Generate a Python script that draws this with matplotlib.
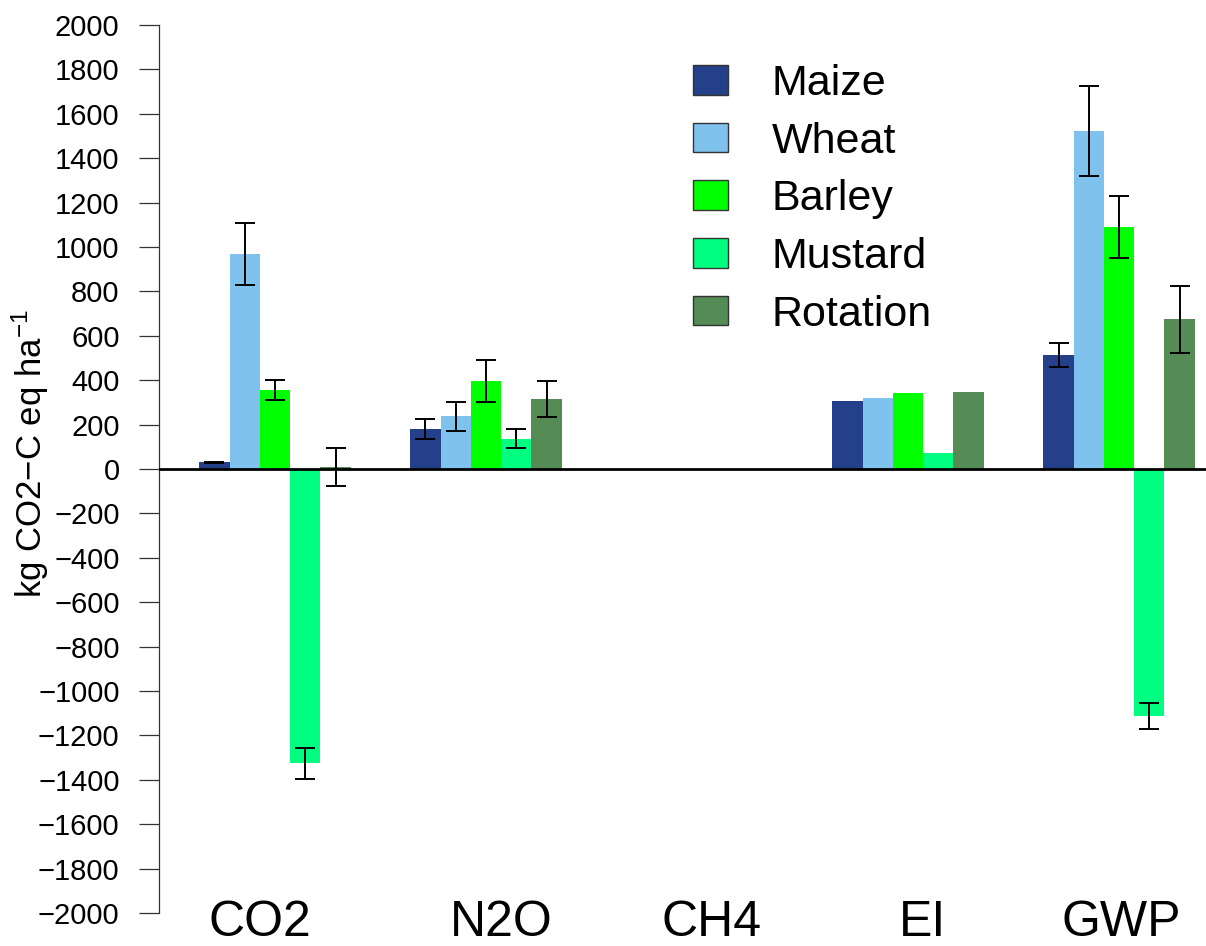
import numpy as np
import matplotlib
matplotlib.use("Agg")
import matplotlib.pyplot as plt
import matplotlib.transforms as mtransforms
from matplotlib.patches import Patch

plt.rcParams['font.family'] = ['Liberation Sans', 'DejaVu Sans']
plt.rcParams['mathtext.fontset'] = 'custom'
plt.rcParams['mathtext.rm'] = 'Liberation Sans'
plt.rcParams['mathtext.default'] = 'regular'

# data
categories = ["CO2", "N2O", "CH4", "EI", "GWP"]
crops = ["Maize", "Wheat", "Barley", "Mustard", "Rotation"]
colors = ["#25408A", "#80C2EE", "#00FF00", "#00FF80", "#558B54"]

maize = [30, 180, 0, 308, 512]
wheat = [968, 237, 0, 321, 1522]
barley = [355, 398, 0, 342, 1089]
mustard = [-1325, 137, 0, 74, -1113]
rotation = [10, 316, 0, 349, 674]

maize_err = [3, 45, np.nan, np.nan, 54]
wheat_err = [138, 67, np.nan, np.nan, 204]
barley_err = [45, 94, np.nan, np.nan, 140]
mustard_err = [70, 42, np.nan, np.nan, 57]
rotation_err = [86, 81, np.nan, np.nan, 150]

values = [maize, wheat, barley, mustard, rotation]
errors = [maize_err, wheat_err, barley_err, mustard_err, rotation_err]

yticks = np.arange(-2000, 2001, 200)

W, H = 1206, 946
fig = plt.figure(figsize=(W / 100, H / 100), dpi=100)
ax = fig.add_axes([159 / W, 33 / H, 1047 / W, 888 / H])

x = np.arange(len(categories))
width = 0.1435

for i in range(len(crops)):
    xs = x + (i - 2) * width
    ax.bar(xs, values[i], width, color=colors[i], edgecolor='none', zorder=2)
    err = np.array(errors[i], dtype=float)
    ok = ~np.isnan(err)
    ax.errorbar(xs[ok], np.array(values[i])[ok], yerr=err[ok], fmt='none',
                ecolor='black', elinewidth=1.4, capsize=7.5, capthick=1.4, zorder=3)

ax.axhline(0, color='black', lw=2, zorder=4)

ax.set_xlim(-0.55, 4.412)
ax.set_ylim(-2000, 2000)
ax.set_yticks(yticks)
ax.set_yticklabels([str(t).replace('-', '\u2212') for t in yticks])
ax.tick_params(axis='y', length=14.4, width=0.9, pad=14, labelsize=21, color='#333333')
ax.set_xticks([])

for s in ['top', 'right', 'bottom']:
    ax.spines[s].set_visible(False)
ax.spines['left'].set_bounds(-2000, 2000)
ax.spines['left'].set_linewidth(0.9)
ax.spines['left'].set_color('#333333')

# category labels below the plot
trans = mtransforms.blended_transform_factory(ax.transData, fig.transFigure)
label_shift = [-0.07, 0.07, 0.07, 0.07, 0.01]
for i, c in enumerate(categories):
    fig.text(x[i] + label_shift[i], 10 / H, c, transform=trans, ha='center',
             va='baseline', fontsize=36)

fig.text(30 / W, 1 - 454 / H, 'kg CO2\u2212C eq ha$^{-1}$', rotation=90,
         ha='center', va='center', fontsize=25)

handles = [Patch(facecolor=colors[i], edgecolor='#333333', lw=1) for i in range(len(crops))]
ax.legend(handles, crops, loc='upper left', bbox_to_anchor=(693 / W, 1 - 64 / H),
          bbox_transform=fig.transFigure, frameon=False, fontsize=31,
          handlelength=0.82, handleheight=0.68, handletextpad=1.0,
          labelspacing=0.41, borderpad=0, borderaxespad=0)

fig.savefig('out.png', dpi=100)
